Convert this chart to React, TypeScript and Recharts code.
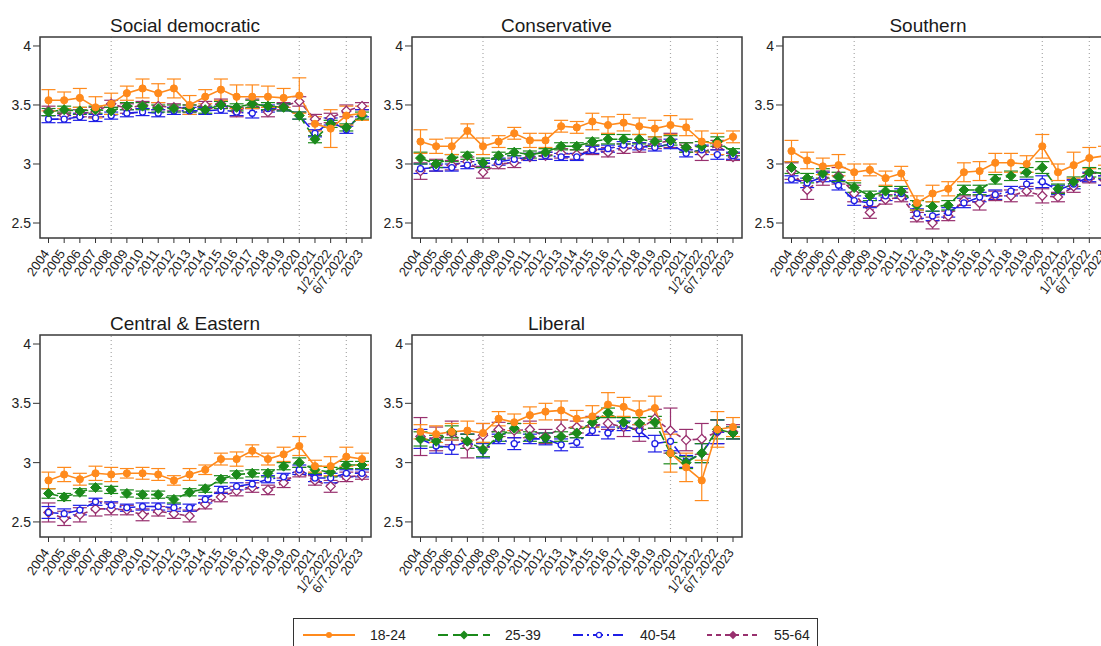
import React from 'react';
import { LineChart, Line, XAxis, YAxis, ErrorBar, ReferenceLine } from 'recharts';

const categories = ['2004','2005','2006','2007','2008','2009','2010','2011','2012','2013','2014','2015','2016','2017','2018','2019','2020','2021','1/2.2022','6/7.2022','2023'];
const seriesNames = ['18-24', '25-39', '40-54', '55-64'];
const panelTitles = ['Social democratic', 'Conservative', 'Southern', 'Central & Eastern', 'Liberal'];
const yTicks = [2.5, 3, 3.5, 4];
const breakCategories = ['2008', '2020', '6/7.2022'];

// Social democratic
const socdem1824 = [3.54,3.54,3.56,3.48,3.51,3.60,3.64,3.60,3.64,3.50,3.57,3.63,3.57,3.57,3.57,3.56,3.58,3.34,3.30,3.41,3.43];
const socdem1824Err = [0.09,0.07,0.08,0.09,0.09,0.06,0.08,0.08,0.08,0.08,0.06,0.09,0.10,0.10,0.09,0.08,0.15,0.06,0.16,0.08,0.06];
const socdem2539 = [3.44,3.46,3.45,3.46,3.45,3.49,3.49,3.47,3.47,3.47,3.46,3.50,3.48,3.51,3.49,3.48,3.41,3.21,3.34,3.31,3.41];
const socdem2539Err = [0.03,0.03,0.03,0.03,0.03,0.03,0.03,0.03,0.03,0.03,0.03,0.03,0.03,0.03,0.03,0.03,0.03,0.03,0.03,0.03,0.03];
const socdem4054 = [3.38,3.38,3.40,3.39,3.41,3.43,3.44,3.43,3.45,3.45,3.45,3.46,3.44,3.43,3.47,3.48,3.41,3.26,3.36,3.29,3.43];
const socdem4054Err = [0.03,0.03,0.03,0.03,0.03,0.03,0.03,0.03,0.03,0.03,0.03,0.03,0.03,0.04,0.03,0.03,0.03,0.03,0.03,0.03,0.03];
const socdem5564 = [3.45,3.41,3.43,3.44,3.51,3.47,3.50,3.49,3.48,3.47,3.50,3.51,3.44,3.51,3.44,3.49,3.53,3.38,3.39,3.45,3.49];
const socdem5564Err = [0.04,0.03,0.03,0.04,0.03,0.04,0.03,0.03,0.03,0.03,0.03,0.04,0.04,0.04,0.04,0.03,0.04,0.04,0.04,0.05,0.03];

// Conservative
const cons1824 = [3.19,3.15,3.15,3.28,3.15,3.19,3.26,3.20,3.20,3.32,3.31,3.36,3.33,3.35,3.32,3.30,3.33,3.31,3.19,3.17,3.23];
const cons1824Err = [0.10,0.06,0.07,0.06,0.07,0.05,0.05,0.06,0.06,0.05,0.05,0.07,0.07,0.07,0.07,0.07,0.08,0.07,0.09,0.09,0.05];
const cons2539 = [3.05,3.00,3.05,3.07,3.01,3.07,3.10,3.08,3.10,3.15,3.15,3.19,3.21,3.21,3.21,3.19,3.20,3.14,3.15,3.19,3.10];
const cons2539Err = [0.05,0.03,0.03,0.03,0.04,0.03,0.03,0.03,0.03,0.03,0.03,0.03,0.04,0.04,0.04,0.04,0.04,0.04,0.04,0.04,0.03];
const cons4054 = [2.96,2.97,2.97,2.99,3.00,3.02,3.04,3.06,3.07,3.06,3.06,3.12,3.13,3.16,3.15,3.14,3.17,3.09,3.12,3.08,3.07];
const cons4054Err = [0.04,0.03,0.03,0.03,0.03,0.03,0.03,0.03,0.03,0.03,0.03,0.03,0.03,0.03,0.03,0.03,0.04,0.03,0.04,0.04,0.03];
const cons5564 = [2.94,2.99,2.99,3.02,2.93,3.00,3.01,3.06,3.07,3.09,3.08,3.12,3.10,3.13,3.14,3.17,3.20,3.14,3.09,3.16,3.06];
const cons5564Err = [0.07,0.05,0.04,0.04,0.05,0.04,0.04,0.03,0.03,0.04,0.04,0.04,0.04,0.04,0.04,0.04,0.06,0.04,0.06,0.04,0.03];

// Southern
const south1824 = [3.11,3.03,2.98,2.99,2.93,2.95,2.88,2.92,2.67,2.75,2.79,2.93,2.94,3.01,3.01,3.00,3.15,2.93,2.99,3.05,3.07];
const south1824Err = [0.09,0.07,0.07,0.09,0.07,0.05,0.06,0.06,0.06,0.07,0.06,0.08,0.08,0.08,0.08,0.07,0.10,0.07,0.11,0.09,0.08];
const south2539 = [2.97,2.88,2.92,2.89,2.80,2.73,2.77,2.77,2.65,2.64,2.65,2.78,2.78,2.87,2.90,2.93,2.97,2.79,2.85,2.93,2.92];
const south2539Err = [0.05,0.04,0.04,0.04,0.04,0.04,0.04,0.04,0.04,0.04,0.04,0.04,0.04,0.04,0.04,0.04,0.05,0.04,0.04,0.04,0.04];
const south4054 = [2.87,2.84,2.89,2.82,2.69,2.67,2.73,2.75,2.58,2.56,2.59,2.67,2.72,2.74,2.77,2.83,2.85,2.78,2.83,2.89,2.86];
const south4054Err = [0.03,0.04,0.04,0.04,0.04,0.04,0.04,0.04,0.04,0.04,0.04,0.04,0.04,0.04,0.04,0.04,0.05,0.04,0.04,0.04,0.04];
const south5564 = [2.94,2.78,2.88,2.90,2.75,2.59,2.70,2.72,2.55,2.50,2.56,2.69,2.67,2.73,2.73,2.77,2.73,2.72,2.81,2.88,2.86];
const south5564Err = [0.07,0.08,0.06,0.07,0.07,0.05,0.04,0.04,0.04,0.05,0.04,0.04,0.06,0.04,0.05,0.04,0.06,0.04,0.05,0.04,0.04];

// Central & Eastern
const cee1824 = [2.85,2.90,2.86,2.91,2.90,2.91,2.91,2.90,2.85,2.90,2.94,3.03,3.03,3.10,3.03,3.07,3.14,2.97,2.97,3.05,3.03];
const cee1824Err = [0.07,0.06,0.05,0.06,0.06,0.04,0.05,0.05,0.04,0.05,0.04,0.05,0.06,0.05,0.05,0.06,0.08,0.05,0.08,0.08,0.05];
const cee2539 = [2.74,2.71,2.75,2.79,2.77,2.74,2.73,2.73,2.69,2.75,2.78,2.86,2.90,2.91,2.91,2.97,3.00,2.94,2.92,2.98,2.98];
const cee2539Err = [0.04,0.03,0.03,0.03,0.03,0.03,0.03,0.03,0.03,0.03,0.03,0.03,0.03,0.03,0.03,0.03,0.04,0.03,0.04,0.03,0.03];
const cee4054 = [2.58,2.57,2.60,2.67,2.64,2.62,2.63,2.63,2.62,2.62,2.69,2.77,2.80,2.82,2.86,2.88,2.94,2.87,2.87,2.91,2.91];
const cee4054Err = [0.05,0.04,0.04,0.03,0.03,0.03,0.03,0.03,0.03,0.03,0.03,0.03,0.03,0.03,0.03,0.03,0.04,0.03,0.04,0.03,0.03];
const cee5564 = [2.58,2.53,2.56,2.61,2.61,2.60,2.56,2.59,2.57,2.55,2.65,2.71,2.76,2.79,2.77,2.83,2.92,2.85,2.80,2.88,2.89];
const cee5564Err = [0.08,0.06,0.06,0.06,0.05,0.04,0.05,0.04,0.04,0.05,0.04,0.04,0.04,0.04,0.04,0.04,0.04,0.04,0.05,0.04,0.03];

// Liberal
const lib1824 = [3.26,3.24,3.26,3.27,3.25,3.37,3.34,3.40,3.43,3.44,3.37,3.39,3.49,3.47,3.42,3.46,3.08,2.96,2.85,3.28,3.30];
const lib1824Err = [0.06,0.07,0.07,0.08,0.08,0.06,0.07,0.07,0.07,0.08,0.07,0.09,0.10,0.08,0.10,0.10,0.16,0.12,0.17,0.15,0.08];
const lib2539 = [3.20,3.18,3.26,3.18,3.11,3.22,3.29,3.22,3.21,3.22,3.25,3.34,3.42,3.34,3.33,3.34,3.08,3.00,3.08,3.28,3.25];
const lib2539Err = [0.06,0.05,0.05,0.06,0.06,0.04,0.04,0.04,0.04,0.04,0.04,0.04,0.04,0.04,0.05,0.05,0.09,0.05,0.08,0.08,0.05];
const lib4054 = [3.20,3.14,3.13,3.18,3.10,3.20,3.16,3.20,3.20,3.15,3.17,3.27,3.25,3.31,3.27,3.16,3.18,3.01,3.08,3.26,3.25];
const lib4054Err = [0.08,0.06,0.06,0.06,0.06,0.04,0.05,0.04,0.05,0.05,0.04,0.04,0.05,0.04,0.05,0.07,0.08,0.05,0.08,0.10,0.05];
const lib5564 = [3.22,3.20,3.25,3.14,3.23,3.28,3.27,3.28,3.22,3.29,3.30,3.31,3.33,3.30,3.28,3.37,3.27,3.19,3.20,3.26,3.26];
const lib5564Err = [0.16,0.10,0.10,0.10,0.10,0.06,0.06,0.07,0.06,0.07,0.05,0.08,0.05,0.08,0.10,0.08,0.19,0.09,0.13,0.10,0.06];

const COLORS = ['#FF8A1C', '#1B8A1B', '#1E1EE6', '#98306E'];
const DASHES = [undefined, '10 5', '10 4 2 4', '5 4'];
const FONT = '"Liberation Sans", Arial, Helvetica, sans-serif';

type PanelSpec = {
  title: string;
  series: number[][];
  errors: number[][];
  plotLeft: number;
  plotTop: number;
  plotW: number;
  plotH: number;
};

const panels: PanelSpec[] = [
  { title: panelTitles[0], series: [socdem1824, socdem2539, socdem4054, socdem5564], errors: [socdem1824Err, socdem2539Err, socdem4054Err, socdem5564Err], plotLeft: 39.5, plotTop: 37, plotW: 331, plotH: 201 },
  { title: panelTitles[1], series: [cons1824, cons2539, cons4054, cons5564], errors: [cons1824Err, cons2539Err, cons4054Err, cons5564Err], plotLeft: 411.5, plotTop: 37, plotW: 330, plotH: 201 },
  { title: panelTitles[2], series: [south1824, south2539, south4054, south5564], errors: [south1824Err, south2539Err, south4054Err, south5564Err], plotLeft: 782.5, plotTop: 37, plotW: 331, plotH: 201 },
  { title: panelTitles[3], series: [cee1824, cee2539, cee4054, cee5564], errors: [cee1824Err, cee2539Err, cee4054Err, cee5564Err], plotLeft: 39.5, plotTop: 335, plotW: 331, plotH: 202 },
  { title: panelTitles[4], series: [lib1824, lib2539, lib4054, lib5564], errors: [lib1824Err, lib2539Err, lib4054Err, lib5564Err], plotLeft: 411.5, plotTop: 335, plotW: 330, plotH: 202 },
];

const diamond = (cx: number, cy: number, r: number) =>
  `${cx},${cy - r} ${cx + r},${cy} ${cx},${cy + r} ${cx - r},${cy}`;

const makeDot = (s: number) => (props: any) => {
  const { cx, cy, index } = props;
  const key = `d-${s}-${index}`;
  if (cx == null || cy == null || isNaN(cx) || isNaN(cy)) return <g key={key} />;
  const c = COLORS[s];
  if (s === 0) return <circle key={key} cx={cx} cy={cy} r={3.6} fill={c} stroke={c} strokeWidth={1} />;
  if (s === 1) return <polygon key={key} points={diamond(cx, cy, 5)} fill={c} stroke={c} strokeWidth={1} />;
  if (s === 2) return <circle key={key} cx={cx} cy={cy} r={3} fill="#fff" stroke={c} strokeWidth={1.3} />;
  return <polygon key={key} points={diamond(cx, cy, 4.6)} fill="#fff" stroke={c} strokeWidth={1.3} />;
};

const XTick = (props: any) => {
  const { x, y, payload } = props;
  const ax = x + 1.5;
  const ay = y + 8.5;
  return (
    <text x={ax} y={ay} transform={`rotate(-55, ${ax}, ${ay})`} textAnchor="end" fontSize={13} fill="#222" fontFamily={FONT}>
      {payload.value}
    </text>
  );
};

const drawOrder = [3, 2, 1, 0];

const Panel = ({ spec }: { spec: PanelSpec }) => {
  const data = categories.map((cat, i) => {
    const row: any = { cat };
    spec.series.forEach((arr, s) => {
      row[`v${s}`] = arr[i];
      row[`e${s}`] = spec.errors[s][i];
    });
    return row;
  });
  const chartLeft = spec.plotLeft - 40;
  const chartTop = spec.plotTop - 10;
  const width = spec.plotW + 50;
  const height = spec.plotH + 90;
  return (
    <>
      <div
        style={{
          position: 'absolute',
          left: spec.plotLeft - 40,
          width: spec.plotW + 40,
          top: spec.plotTop - 21.5,
          textAlign: 'center',
          fontFamily: FONT,
          fontSize: 19,
          lineHeight: '19px',
          color: '#1a1a1a',
          whiteSpace: 'nowrap',
        }}
      >
        {spec.title}
      </div>
      <div style={{ position: 'absolute', left: chartLeft, top: chartTop }}>
        <LineChart width={width} height={height} data={data} margin={{ top: 10, right: 10, left: 0, bottom: 0 }}>
          <XAxis
            dataKey="cat"
            type="category"
            interval={0}
            height={80}
            padding={{ left: 8.5, right: 9 }}
            axisLine={false}
            tickLine={{ stroke: '#333', strokeWidth: 1 }}
            tickSize={5}
            tickMargin={2}
            tick={<XTick />}
          />
          <YAxis
            type="number"
            domain={[2.373, 4.076]}
            allowDataOverflow
            ticks={yTicks}
            width={40}
            axisLine={false}
            tickLine={{ stroke: '#333', strokeWidth: 1 }}
            tickSize={7}
            tickMargin={2}
            tick={{ fontSize: 14, fill: '#222', fontFamily: FONT }}
          />
          {breakCategories.map((c) => (
            <ReferenceLine key={c} x={c} stroke="#a8a8a8" strokeWidth={1.2} strokeDasharray="1 3" />
          ))}
          {drawOrder.map((s) => (
            <Line
              key={seriesNames[s]}
              dataKey={`v${s}`}
              name={seriesNames[s]}
              stroke={COLORS[s]}
              strokeWidth={1.6}
              strokeDasharray={DASHES[s]}
              type="linear"
              dot={makeDot(s)}
              activeDot={false}
              isAnimationActive={false}
            >
              <ErrorBar dataKey={`e${s}`} width={7} stroke={COLORS[s]} strokeWidth={1.2} direction="y" />
            </Line>
          ))}
        </LineChart>
      </div>
      <svg
        style={{ position: 'absolute', left: spec.plotLeft - 1, top: spec.plotTop - 1, overflow: 'visible' }}
        width={spec.plotW + 2}
        height={spec.plotH + 2}
      >
        <rect x={1} y={1} width={spec.plotW} height={spec.plotH} fill="none" stroke="#3a3a3a" strokeWidth={1.5} />
      </svg>
    </>
  );
};

const LegendSample = ({ s }: { s: number }) => {
  const c = COLORS[s];
  return (
    <svg width={52} height={12} style={{ display: 'block' }}>
      <line x1={0} y1={6} x2={52} y2={6} stroke={c} strokeWidth={2} strokeDasharray={DASHES[s]} />
      {s === 0 && <circle cx={26} cy={6} r={3} fill={c} />}
      {s === 1 && <polygon points={diamond(26, 6, 4.5)} fill={c} />}
      {s === 2 && <circle cx={26} cy={6} r={2.6} fill="#fff" stroke={c} strokeWidth={1.3} />}
      {s === 3 && <polygon points={diamond(26, 6, 4.2)} fill={c} />}
    </svg>
  );
};

const legendX = [303, 438, 573, 707];

export default function App() {
  return (
    <div
      style={{
        position: 'fixed',
        left: 0,
        top: 0,
        width: 1101,
        height: 646,
        overflow: 'hidden',
        background: '#fff',
        fontFamily: FONT,
      }}
    >
      {panels.map((p) => (
        <Panel key={p.title} spec={p} />
      ))}
      <div
        style={{
          position: 'absolute',
          left: 293,
          top: 618,
          width: 525,
          height: 40,
          border: '1px solid #333',
          boxSizing: 'border-box',
          background: '#fff',
        }}
      />
      {seriesNames.map((name, s) => (
        <div
          key={name}
          style={{ position: 'absolute', left: legendX[s], top: 629, display: 'flex', alignItems: 'center', height: 12 }}
        >
          <LegendSample s={s} />
          <span style={{ marginLeft: 15, fontSize: 14, color: '#222', fontFamily: FONT, lineHeight: '12px' }}>{name}</span>
        </div>
      ))}
    </div>
  );
}
